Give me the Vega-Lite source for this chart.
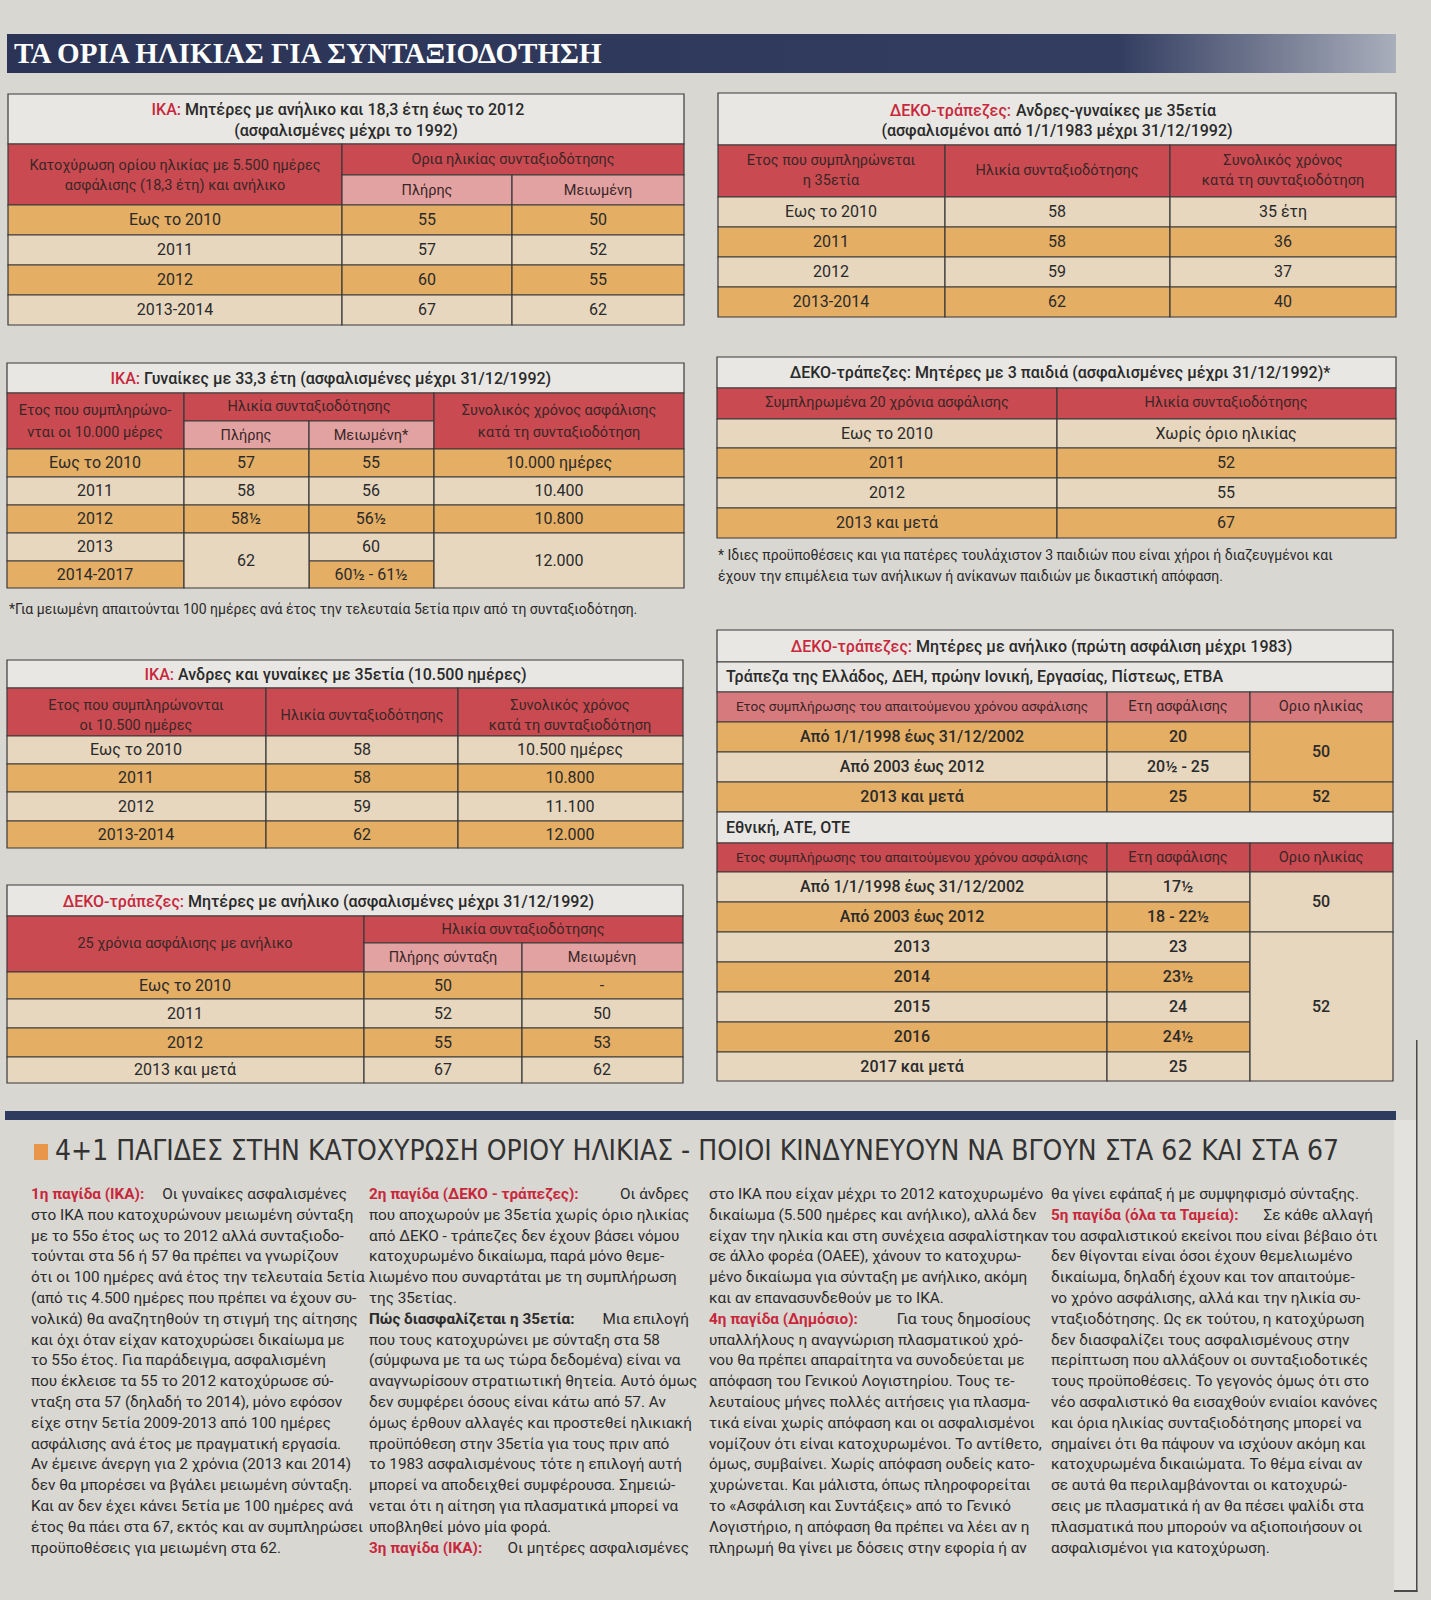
{
"$schema":"https://vega.github.io/schema/vega-lite/v6.json",
"width":1431,"height":1600,"padding":0,
"autosize":{"type":"none"},
"background":"#d9d7d2",
"config":{"view":{"stroke":null}},
"datasets":{
"boxes":[
{"x":8,"xe":684,"y":94,"ye":144,"k":"ttl"},
{"x":8,"xe":342,"y":144,"ye":205,"k":"hdr"},
{"x":342,"xe":684,"y":144,"ye":175,"k":"hdr"},
{"x":342,"xe":512,"y":175,"ye":205,"k":"sub"},
{"x":512,"xe":684,"y":175,"ye":205,"k":"sub"},
{"x":8,"xe":342,"y":205,"ye":235,"k":"or"},{"x":342,"xe":512,"y":205,"ye":235,"k":"or"},{"x":512,"xe":684,"y":205,"ye":235,"k":"or"},
{"x":8,"xe":342,"y":235,"ye":265,"k":"be"},{"x":342,"xe":512,"y":235,"ye":265,"k":"be"},{"x":512,"xe":684,"y":235,"ye":265,"k":"be"},
{"x":8,"xe":342,"y":265,"ye":295,"k":"or"},{"x":342,"xe":512,"y":265,"ye":295,"k":"or"},{"x":512,"xe":684,"y":265,"ye":295,"k":"or"},
{"x":8,"xe":342,"y":295,"ye":325,"k":"be"},{"x":342,"xe":512,"y":295,"ye":325,"k":"be"},{"x":512,"xe":684,"y":295,"ye":325,"k":"be"},

{"x":718,"xe":1396,"y":93,"ye":145,"k":"ttl"},
{"x":718,"xe":945,"y":145,"ye":197,"k":"hdr"},{"x":945,"xe":1170,"y":145,"ye":197,"k":"hdr"},{"x":1170,"xe":1396,"y":145,"ye":197,"k":"hdr"},
{"x":718,"xe":945,"y":197,"ye":227,"k":"be"},{"x":945,"xe":1170,"y":197,"ye":227,"k":"be"},{"x":1170,"xe":1396,"y":197,"ye":227,"k":"be"},
{"x":718,"xe":945,"y":227,"ye":257,"k":"or"},{"x":945,"xe":1170,"y":227,"ye":257,"k":"or"},{"x":1170,"xe":1396,"y":227,"ye":257,"k":"or"},
{"x":718,"xe":945,"y":257,"ye":287,"k":"be"},{"x":945,"xe":1170,"y":257,"ye":287,"k":"be"},{"x":1170,"xe":1396,"y":257,"ye":287,"k":"be"},
{"x":718,"xe":945,"y":287,"ye":317,"k":"or"},{"x":945,"xe":1170,"y":287,"ye":317,"k":"or"},{"x":1170,"xe":1396,"y":287,"ye":317,"k":"or"},

{"x":7,"xe":684,"y":363,"ye":393,"k":"ttl"},
{"x":7,"xe":184,"y":393,"ye":449,"k":"hdr"},
{"x":184,"xe":434,"y":393,"ye":421,"k":"hdr"},
{"x":184,"xe":309,"y":421,"ye":449,"k":"sub"},{"x":309,"xe":434,"y":421,"ye":449,"k":"sub"},
{"x":434,"xe":684,"y":393,"ye":449,"k":"hdr"},
{"x":7,"xe":184,"y":449,"ye":477,"k":"or"},{"x":184,"xe":309,"y":449,"ye":477,"k":"or"},{"x":309,"xe":434,"y":449,"ye":477,"k":"or"},{"x":434,"xe":684,"y":449,"ye":477,"k":"or"},
{"x":7,"xe":184,"y":477,"ye":505,"k":"be"},{"x":184,"xe":309,"y":477,"ye":505,"k":"be"},{"x":309,"xe":434,"y":477,"ye":505,"k":"be"},{"x":434,"xe":684,"y":477,"ye":505,"k":"be"},
{"x":7,"xe":184,"y":505,"ye":533,"k":"or"},{"x":184,"xe":309,"y":505,"ye":533,"k":"or"},{"x":309,"xe":434,"y":505,"ye":533,"k":"or"},{"x":434,"xe":684,"y":505,"ye":533,"k":"or"},
{"x":7,"xe":184,"y":533,"ye":561,"k":"be"},{"x":309,"xe":434,"y":533,"ye":561,"k":"be"},
{"x":7,"xe":184,"y":561,"ye":588,"k":"or"},{"x":309,"xe":434,"y":561,"ye":588,"k":"or"},
{"x":184,"xe":309,"y":533,"ye":588,"k":"be"},{"x":434,"xe":684,"y":533,"ye":588,"k":"be"},

{"x":7,"xe":683,"y":660,"ye":688,"k":"ttl"},
{"x":7,"xe":266,"y":688,"ye":736,"k":"hdr"},{"x":266,"xe":458,"y":688,"ye":736,"k":"hdr"},{"x":458,"xe":683,"y":688,"ye":736,"k":"hdr"},
{"x":7,"xe":266,"y":736,"ye":764,"k":"be"},{"x":266,"xe":458,"y":736,"ye":764,"k":"be"},{"x":458,"xe":683,"y":736,"ye":764,"k":"be"},
{"x":7,"xe":266,"y":764,"ye":792,"k":"or"},{"x":266,"xe":458,"y":764,"ye":792,"k":"or"},{"x":458,"xe":683,"y":764,"ye":792,"k":"or"},
{"x":7,"xe":266,"y":792,"ye":821,"k":"be"},{"x":266,"xe":458,"y":792,"ye":821,"k":"be"},{"x":458,"xe":683,"y":792,"ye":821,"k":"be"},
{"x":7,"xe":266,"y":821,"ye":848,"k":"or"},{"x":266,"xe":458,"y":821,"ye":848,"k":"or"},{"x":458,"xe":683,"y":821,"ye":848,"k":"or"},

{"x":7,"xe":683,"y":885,"ye":916,"k":"ttl"},
{"x":7,"xe":364,"y":916,"ye":972,"k":"hdr"},
{"x":364,"xe":683,"y":916,"ye":943,"k":"hdr"},
{"x":364,"xe":522,"y":943,"ye":972,"k":"sub"},{"x":522,"xe":683,"y":943,"ye":972,"k":"sub"},
{"x":7,"xe":364,"y":972,"ye":999,"k":"or"},{"x":364,"xe":522,"y":972,"ye":999,"k":"or"},{"x":522,"xe":683,"y":972,"ye":999,"k":"or"},
{"x":7,"xe":364,"y":999,"ye":1028,"k":"be"},{"x":364,"xe":522,"y":999,"ye":1028,"k":"be"},{"x":522,"xe":683,"y":999,"ye":1028,"k":"be"},
{"x":7,"xe":364,"y":1028,"ye":1057,"k":"or"},{"x":364,"xe":522,"y":1028,"ye":1057,"k":"or"},{"x":522,"xe":683,"y":1028,"ye":1057,"k":"or"},
{"x":7,"xe":364,"y":1057,"ye":1083,"k":"be"},{"x":364,"xe":522,"y":1057,"ye":1083,"k":"be"},{"x":522,"xe":683,"y":1057,"ye":1083,"k":"be"},

{"x":717,"xe":1396,"y":357,"ye":388,"k":"ttl"},
{"x":717,"xe":1057,"y":388,"ye":419,"k":"hdr"},{"x":1057,"xe":1396,"y":388,"ye":419,"k":"hdr"},
{"x":717,"xe":1057,"y":419,"ye":448,"k":"be"},{"x":1057,"xe":1396,"y":419,"ye":448,"k":"be"},
{"x":717,"xe":1057,"y":448,"ye":478,"k":"or"},{"x":1057,"xe":1396,"y":448,"ye":478,"k":"or"},
{"x":717,"xe":1057,"y":478,"ye":508,"k":"be"},{"x":1057,"xe":1396,"y":478,"ye":508,"k":"be"},
{"x":717,"xe":1057,"y":508,"ye":538,"k":"or"},{"x":1057,"xe":1396,"y":508,"ye":538,"k":"or"},

{"x":717,"xe":1393,"y":630,"ye":662,"k":"ttl"},
{"x":717,"xe":1393,"y":662,"ye":692,"k":"ttl"},
{"x":717,"xe":1107,"y":692,"ye":722,"k":"hdp"},{"x":1107,"xe":1250,"y":692,"ye":722,"k":"hdp"},{"x":1250,"xe":1393,"y":692,"ye":722,"k":"hdp"},
{"x":717,"xe":1107,"y":722,"ye":752,"k":"or"},{"x":1107,"xe":1250,"y":722,"ye":752,"k":"or"},
{"x":717,"xe":1107,"y":752,"ye":782,"k":"be"},{"x":1107,"xe":1250,"y":752,"ye":782,"k":"be"},
{"x":1250,"xe":1393,"y":722,"ye":782,"k":"or"},
{"x":717,"xe":1107,"y":782,"ye":812,"k":"or"},{"x":1107,"xe":1250,"y":782,"ye":812,"k":"or"},{"x":1250,"xe":1393,"y":782,"ye":812,"k":"or"},
{"x":717,"xe":1393,"y":812,"ye":843,"k":"ttl"},
{"x":717,"xe":1107,"y":843,"ye":872,"k":"hdr"},{"x":1107,"xe":1250,"y":843,"ye":872,"k":"hdr"},{"x":1250,"xe":1393,"y":843,"ye":872,"k":"hdr"},
{"x":717,"xe":1107,"y":872,"ye":902,"k":"be"},{"x":1107,"xe":1250,"y":872,"ye":902,"k":"be"},
{"x":717,"xe":1107,"y":902,"ye":932,"k":"or"},{"x":1107,"xe":1250,"y":902,"ye":932,"k":"or"},
{"x":1250,"xe":1393,"y":872,"ye":932,"k":"be"},
{"x":717,"xe":1107,"y":932,"ye":962,"k":"be"},{"x":1107,"xe":1250,"y":932,"ye":962,"k":"be"},
{"x":717,"xe":1107,"y":962,"ye":992,"k":"or"},{"x":1107,"xe":1250,"y":962,"ye":992,"k":"or"},
{"x":717,"xe":1107,"y":992,"ye":1022,"k":"be"},{"x":1107,"xe":1250,"y":992,"ye":1022,"k":"be"},
{"x":717,"xe":1107,"y":1022,"ye":1052,"k":"or"},{"x":1107,"xe":1250,"y":1022,"ye":1052,"k":"or"},
{"x":717,"xe":1107,"y":1052,"ye":1081,"k":"be"},{"x":1107,"xe":1250,"y":1052,"ye":1081,"k":"be"},
{"x":1250,"xe":1393,"y":932,"ye":1081,"k":"be"}
],
"deco":[
{"x":1394,"xe":1416,"y":1120,"ye":1590,"k":"lt"},
{"x":1416,"xe":1417.5,"y":1040,"ye":1592,"k":"ln"},
{"x":1394,"xe":1417.5,"y":1590,"ye":1592,"k":"ln"},
{"x":5,"xe":1396,"y":1111,"ye":1120,"k":"nav"},
{"x":34,"xe":48,"y":1144,"ye":1160,"k":"sq"}
],
"bar":[{"x":7,"xe":1396,"y":34,"ye":73}],
"heads":[
{"x":14,"y":54,"t":"ΤΑ ΟΡΙΑ ΗΛΙΚΙΑΣ ΓΙΑ ΣΥΝΤΑΞΙΟΔΟΤΗΣΗ","k":"h1"},
{"x":55,"y":1152,"t":"4+1 ΠΑΓΙΔΕΣ ΣΤΗΝ ΚΑΤΟΧΥΡΩΣΗ ΟΡΙΟΥ ΗΛΙΚΙΑΣ - ΠΟΙΟΙ ΚΙΝΔΥΝΕΥΟΥΝ ΝΑ ΒΓΟΥΝ ΣΤΑ 62 ΚΑΙ ΣΤΑ 67","k":"h2"}
],
"cells":[
{"x":181,"y":110,"t":"ΙΚΑ:","k":"tr"},
{"x":185,"y":110,"t":"Μητέρες με ανήλικο και 18,3 έτη έως το 2012","k":"tl"},
{"x":346,"y":131,"t":"(ασφαλισμένες μέχρι το 1992)","k":"tb"},
{"x":175,"y":166,"t":"Κατοχύρωση ορίου ηλικίας με 5.500 ημέρες","k":"h"},
{"x":175,"y":186,"t":"ασφάλισης (18,3 έτη) και ανήλικο","k":"h"},
{"x":513,"y":160,"t":"Ορια ηλικίας συνταξιοδότησης","k":"h"},
{"x":427,"y":191,"t":"Πλήρης","k":"h"},
{"x":598,"y":191,"t":"Μειωμένη","k":"h"},
{"x":175,"y":220,"t":"Εως το 2010","k":"c"},{"x":427,"y":220,"t":"55","k":"c"},{"x":598,"y":220,"t":"50","k":"c"},
{"x":175,"y":250,"t":"2011","k":"c"},{"x":427,"y":250,"t":"57","k":"c"},{"x":598,"y":250,"t":"52","k":"c"},
{"x":175,"y":280,"t":"2012","k":"c"},{"x":427,"y":280,"t":"60","k":"c"},{"x":598,"y":280,"t":"55","k":"c"},
{"x":175,"y":310,"t":"2013-2014","k":"c"},{"x":427,"y":310,"t":"67","k":"c"},{"x":598,"y":310,"t":"62","k":"c"},

{"x":1011,"y":111,"t":"ΔΕΚΟ-τράπεζες:","k":"tr"},
{"x":1016,"y":111,"t":"Ανδρες-γυναίκες με 35ετία","k":"tl"},
{"x":1057,"y":131,"t":"(ασφαλισμένοι από 1/1/1983 μέχρι 31/12/1992)","k":"tb"},
{"x":831,"y":161,"t":"Ετος που συμπληρώνεται","k":"h"},
{"x":831,"y":181,"t":"η 35ετία","k":"h"},
{"x":1057,"y":171,"t":"Ηλικία συνταξιοδότησης","k":"h"},
{"x":1283,"y":161,"t":"Συνολικός χρόνος","k":"h"},
{"x":1283,"y":181,"t":"κατά τη συνταξιοδότηση","k":"h"},
{"x":831,"y":212,"t":"Εως το 2010","k":"c"},{"x":1057,"y":212,"t":"58","k":"c"},{"x":1283,"y":212,"t":"35 έτη","k":"c"},
{"x":831,"y":242,"t":"2011","k":"c"},{"x":1057,"y":242,"t":"58","k":"c"},{"x":1283,"y":242,"t":"36","k":"c"},
{"x":831,"y":272,"t":"2012","k":"c"},{"x":1057,"y":272,"t":"59","k":"c"},{"x":1283,"y":272,"t":"37","k":"c"},
{"x":831,"y":302,"t":"2013-2014","k":"c"},{"x":1057,"y":302,"t":"62","k":"c"},{"x":1283,"y":302,"t":"40","k":"c"},

{"x":140,"y":379,"t":"ΙΚΑ:","k":"tr"},
{"x":144,"y":379,"t":"Γυναίκες με 33,3 έτη (ασφαλισμένες μέχρι 31/12/1992)","k":"tl"},
{"x":95,"y":411,"t":"Ετος που συμπληρώνο-","k":"h"},
{"x":95,"y":433,"t":"νται οι 10.000 μέρες","k":"h"},
{"x":309,"y":407,"t":"Ηλικία συνταξιοδότησης","k":"h"},
{"x":246,"y":436,"t":"Πλήρης","k":"h"},
{"x":371,"y":436,"t":"Μειωμένη*","k":"h"},
{"x":559,"y":411,"t":"Συνολικός χρόνος ασφάλισης","k":"h"},
{"x":559,"y":433,"t":"κατά τη συνταξιοδότηση","k":"h"},
{"x":95,"y":463,"t":"Εως το 2010","k":"c"},{"x":246,"y":463,"t":"57","k":"c"},{"x":371,"y":463,"t":"55","k":"c"},{"x":559,"y":463,"t":"10.000 ημέρες","k":"c"},
{"x":95,"y":491,"t":"2011","k":"c"},{"x":246,"y":491,"t":"58","k":"c"},{"x":371,"y":491,"t":"56","k":"c"},{"x":559,"y":491,"t":"10.400","k":"c"},
{"x":95,"y":519,"t":"2012","k":"c"},{"x":246,"y":519,"t":"58½","k":"c"},{"x":371,"y":519,"t":"56½","k":"c"},{"x":559,"y":519,"t":"10.800","k":"c"},
{"x":95,"y":547,"t":"2013","k":"c"},{"x":371,"y":547,"t":"60","k":"c"},
{"x":95,"y":574.5,"t":"2014-2017","k":"c"},{"x":371,"y":574.5,"t":"60½ - 61½","k":"c"},
{"x":246,"y":560.5,"t":"62","k":"c"},{"x":559,"y":560.5,"t":"12.000","k":"c"},
{"x":9,"y":610,"t":"*Για μειωμένη απαιτούνται 100 ημέρες ανά έτος την τελευταία 5ετία πριν από τη συνταξιοδότηση.","k":"n"},

{"x":174,"y":675,"t":"ΙΚΑ:","k":"tr"},
{"x":178,"y":675,"t":"Ανδρες και γυναίκες με 35ετία (10.500 ημέρες)","k":"tl"},
{"x":136,"y":706,"t":"Ετος που συμπληρώνονται","k":"h"},
{"x":136,"y":726,"t":"οι 10.500 ημέρες","k":"h"},
{"x":362,"y":716,"t":"Ηλικία συνταξιοδότησης","k":"h"},
{"x":570,"y":706,"t":"Συνολικός χρόνος","k":"h"},
{"x":570,"y":726,"t":"κατά τη συνταξιοδότηση","k":"h"},
{"x":136,"y":750,"t":"Εως το 2010","k":"c"},{"x":362,"y":750,"t":"58","k":"c"},{"x":570,"y":750,"t":"10.500 ημέρες","k":"c"},
{"x":136,"y":778,"t":"2011","k":"c"},{"x":362,"y":778,"t":"58","k":"c"},{"x":570,"y":778,"t":"10.800","k":"c"},
{"x":136,"y":806.5,"t":"2012","k":"c"},{"x":362,"y":806.5,"t":"59","k":"c"},{"x":570,"y":806.5,"t":"11.100","k":"c"},
{"x":136,"y":834.5,"t":"2013-2014","k":"c"},{"x":362,"y":834.5,"t":"62","k":"c"},{"x":570,"y":834.5,"t":"12.000","k":"c"},

{"x":184,"y":902,"t":"ΔΕΚΟ-τράπεζες:","k":"tr"},
{"x":188,"y":902,"t":"Μητέρες με ανήλικο (ασφαλισμένες μέχρι 31/12/1992)","k":"tl"},
{"x":185,"y":944,"t":"25 χρόνια ασφάλισης με ανήλικο","k":"h"},
{"x":523,"y":930,"t":"Ηλικία συνταξιοδότησης","k":"h"},
{"x":443,"y":958,"t":"Πλήρης σύνταξη","k":"h"},
{"x":602,"y":958,"t":"Μειωμένη","k":"h"},
{"x":185,"y":985.5,"t":"Εως το 2010","k":"c"},{"x":443,"y":985.5,"t":"50","k":"c"},{"x":602,"y":985.5,"t":"-","k":"c"},
{"x":185,"y":1013.5,"t":"2011","k":"c"},{"x":443,"y":1013.5,"t":"52","k":"c"},{"x":602,"y":1013.5,"t":"50","k":"c"},
{"x":185,"y":1042.5,"t":"2012","k":"c"},{"x":443,"y":1042.5,"t":"55","k":"c"},{"x":602,"y":1042.5,"t":"53","k":"c"},
{"x":185,"y":1070,"t":"2013 και μετά","k":"c"},{"x":443,"y":1070,"t":"67","k":"c"},{"x":602,"y":1070,"t":"62","k":"c"},

{"x":1060,"y":373,"t":"ΔΕΚΟ-τράπεζες: Μητέρες με 3 παιδιά (ασφαλισμένες μέχρι 31/12/1992)*","k":"tb"},
{"x":887,"y":403,"t":"Συμπληρωμένα 20 χρόνια ασφάλισης","k":"h"},
{"x":1226,"y":403,"t":"Ηλικία συνταξιοδότησης","k":"h"},
{"x":887,"y":433.5,"t":"Εως το 2010","k":"c"},{"x":1226,"y":433.5,"t":"Χωρίς όριο ηλικίας","k":"c"},
{"x":887,"y":463,"t":"2011","k":"c"},{"x":1226,"y":463,"t":"52","k":"c"},
{"x":887,"y":493,"t":"2012","k":"c"},{"x":1226,"y":493,"t":"55","k":"c"},
{"x":887,"y":523,"t":"2013 και μετά","k":"c"},{"x":1226,"y":523,"t":"67","k":"c"},
{"x":718,"y":556,"t":"* Ιδιες προϋποθέσεις και για πατέρες τουλάχιστον 3 παιδιών που είναι χήροι ή διαζευγμένοι και","k":"n"},
{"x":718,"y":577,"t":"έχουν την επιμέλεια των ανήλικων ή ανίκανων παιδιών με δικαστική απόφαση.","k":"n"},

{"x":912,"y":647,"t":"ΔΕΚΟ-τράπεζες:","k":"tr"},
{"x":916,"y":647,"t":"Μητέρες με ανήλικο (πρώτη ασφάλιση μέχρι 1983)","k":"tl"},
{"x":726,"y":677,"t":"Τράπεζα της Ελλάδος, ΔΕΗ, πρώην Ιονική, Εργασίας, Πίστεως, ΕΤΒΑ","k":"sl"},
{"x":912,"y":707,"t":"Ετος συμπλήρωσης του απαιτούμενου χρόνου ασφάλισης","k":"hs"},
{"x":1178,"y":707,"t":"Ετη ασφάλισης","k":"h"},
{"x":1321,"y":707,"t":"Οριο ηλικίας","k":"h"},
{"x":912,"y":737,"t":"Από 1/1/1998 έως 31/12/2002","k":"cm"},{"x":1178,"y":737,"t":"20","k":"cm"},
{"x":912,"y":767,"t":"Από 2003 έως 2012","k":"cm"},{"x":1178,"y":767,"t":"20½ - 25","k":"cm"},
{"x":1321,"y":752,"t":"50","k":"cm"},
{"x":912,"y":797,"t":"2013 και μετά","k":"cm"},{"x":1178,"y":797,"t":"25","k":"cm"},{"x":1321,"y":797,"t":"52","k":"cm"},
{"x":726,"y":828,"t":"Εθνική, ΑΤΕ, ΟΤΕ","k":"sl"},
{"x":912,"y":857.5,"t":"Ετος συμπλήρωσης του απαιτούμενου χρόνου ασφάλισης","k":"hs"},
{"x":1178,"y":857.5,"t":"Ετη ασφάλισης","k":"h"},
{"x":1321,"y":857.5,"t":"Οριο ηλικίας","k":"h"},
{"x":912,"y":887,"t":"Από 1/1/1998 έως 31/12/2002","k":"cm"},{"x":1178,"y":887,"t":"17½","k":"cm"},
{"x":912,"y":917,"t":"Από 2003 έως 2012","k":"cm"},{"x":1178,"y":917,"t":"18 - 22½","k":"cm"},
{"x":1321,"y":902,"t":"50","k":"cm"},
{"x":912,"y":947,"t":"2013","k":"cm"},{"x":1178,"y":947,"t":"23","k":"cm"},
{"x":912,"y":977,"t":"2014","k":"cm"},{"x":1178,"y":977,"t":"23½","k":"cm"},
{"x":912,"y":1007,"t":"2015","k":"cm"},{"x":1178,"y":1007,"t":"24","k":"cm"},
{"x":912,"y":1037,"t":"2016","k":"cm"},{"x":1178,"y":1037,"t":"24½","k":"cm"},
{"x":912,"y":1066.5,"t":"2017 και μετά","k":"cm"},{"x":1178,"y":1066.5,"t":"25","k":"cm"},
{"x":1321,"y":1006.5,"t":"52","k":"cm"}
],
"body":[
{"x":31,"y":1194,"t":"1η παγίδα (ΙΚΑ):","k":"lr"},
{"x":347,"y":1194,"t":"Οι γυναίκες ασφαλισμένες","k":"br"},
{"x":31,"y":1214.8,"t":"στο ΙΚΑ που κατοχυρώνουν μειωμένη σύνταξη","k":"b"},
{"x":31,"y":1235.6,"t":"με το 55ο έτος ως το 2012 αλλά συνταξιοδο-","k":"b"},
{"x":31,"y":1256.4,"t":"τούνται στα 56 ή 57 θα πρέπει να γνωρίζουν","k":"b"},
{"x":31,"y":1277.2,"t":"ότι οι 100 ημέρες ανά έτος την τελευταία 5ετία","k":"b"},
{"x":31,"y":1298,"t":"(από τις 4.500 ημέρες που πρέπει να έχουν συ-","k":"b"},
{"x":31,"y":1318.8,"t":"νολικά) θα αναζητηθούν τη στιγμή της αίτησης","k":"b"},
{"x":31,"y":1339.6,"t":"και όχι όταν είχαν κατοχυρώσει δικαίωμα με","k":"b"},
{"x":31,"y":1360.4,"t":"το 55ο έτος. Για παράδειγμα, ασφαλισμένη","k":"b"},
{"x":31,"y":1381.2,"t":"που έκλεισε τα 55 το 2012 κατοχύρωσε σύ-","k":"b"},
{"x":31,"y":1402,"t":"νταξη στα 57 (δηλαδή το 2014), μόνο εφόσον","k":"b"},
{"x":31,"y":1422.8,"t":"είχε στην 5ετία 2009-2013 από 100 ημέρες","k":"b"},
{"x":31,"y":1443.6,"t":"ασφάλισης ανά έτος με πραγματική εργασία.","k":"b"},
{"x":31,"y":1464.4,"t":"Αν έμεινε άνεργη για 2 χρόνια (2013 και 2014)","k":"b"},
{"x":31,"y":1485.2,"t":"δεν θα μπορέσει να βγάλει μειωμένη σύνταξη.","k":"b"},
{"x":31,"y":1506,"t":"Και αν δεν έχει κάνει 5ετία με 100 ημέρες ανά","k":"b"},
{"x":31,"y":1526.8,"t":"έτος θα πάει στα 67, εκτός και αν συμπληρώσει","k":"b"},
{"x":31,"y":1547.6,"t":"προϋποθέσεις για μειωμένη στα 62.","k":"b"},

{"x":369,"y":1194,"t":"2η παγίδα (ΔΕΚΟ - τράπεζες):","k":"lr"},
{"x":689,"y":1194,"t":"Οι άνδρες","k":"br"},
{"x":369,"y":1214.8,"t":"που αποχωρούν με 35ετία χωρίς όριο ηλικίας","k":"b"},
{"x":369,"y":1235.6,"t":"από ΔΕΚΟ - τράπεζες δεν έχουν βάσει νόμου","k":"b"},
{"x":369,"y":1256.4,"t":"κατοχυρωμένο δικαίωμα, παρά μόνο θεμε-","k":"b"},
{"x":369,"y":1277.2,"t":"λιωμένο που συναρτάται με τη συμπλήρωση","k":"b"},
{"x":369,"y":1298,"t":"της 35ετίας.","k":"b"},
{"x":369,"y":1318.8,"t":"Πώς διασφαλίζεται η 35ετία:","k":"lb"},
{"x":689,"y":1318.8,"t":"Μια επιλογή","k":"br"},
{"x":369,"y":1339.6,"t":"που τους κατοχυρώνει με σύνταξη στα 58","k":"b"},
{"x":369,"y":1360.4,"t":"(σύμφωνα με τα ως τώρα δεδομένα) είναι να","k":"b"},
{"x":369,"y":1381.2,"t":"αναγνωρίσουν στρατιωτική θητεία. Αυτό όμως","k":"b"},
{"x":369,"y":1402,"t":"δεν συμφέρει όσους είναι κάτω από 57. Αν","k":"b"},
{"x":369,"y":1422.8,"t":"όμως έρθουν αλλαγές και προστεθεί ηλικιακή","k":"b"},
{"x":369,"y":1443.6,"t":"προϋπόθεση στην 35ετία για τους πριν από","k":"b"},
{"x":369,"y":1464.4,"t":"το 1983 ασφαλισμένους τότε η επιλογή αυτή","k":"b"},
{"x":369,"y":1485.2,"t":"μπορεί να αποδειχθεί συμφέρουσα. Σημειώ-","k":"b"},
{"x":369,"y":1506,"t":"νεται ότι η αίτηση για πλασματικά μπορεί να","k":"b"},
{"x":369,"y":1526.8,"t":"υποβληθεί μόνο μία φορά.","k":"b"},
{"x":369,"y":1547.6,"t":"3η παγίδα (ΙΚΑ):","k":"lr"},
{"x":689,"y":1547.6,"t":"Οι μητέρες ασφαλισμένες","k":"br"},

{"x":709,"y":1194,"t":"στο ΙΚΑ που είχαν μέχρι το 2012 κατοχυρωμένο","k":"b"},
{"x":709,"y":1214.8,"t":"δικαίωμα (5.500 ημέρες και ανήλικο), αλλά δεν","k":"b"},
{"x":709,"y":1235.6,"t":"είχαν την ηλικία και στη συνέχεια ασφαλίστηκαν","k":"b"},
{"x":709,"y":1256.4,"t":"σε άλλο φορέα (ΟΑΕΕ), χάνουν το κατοχυρω-","k":"b"},
{"x":709,"y":1277.2,"t":"μένο δικαίωμα για σύνταξη με ανήλικο, ακόμη","k":"b"},
{"x":709,"y":1298,"t":"και αν επανασυνδεθούν με το ΙΚΑ.","k":"b"},
{"x":709,"y":1318.8,"t":"4η παγίδα (Δημόσιο):","k":"lr"},
{"x":1031,"y":1318.8,"t":"Για τους δημοσίους","k":"br"},
{"x":709,"y":1339.6,"t":"υπαλλήλους η αναγνώριση πλασματικού χρό-","k":"b"},
{"x":709,"y":1360.4,"t":"νου θα πρέπει απαραίτητα να συνοδεύεται με","k":"b"},
{"x":709,"y":1381.2,"t":"απόφαση του Γενικού Λογιστηρίου. Τους τε-","k":"b"},
{"x":709,"y":1402,"t":"λευταίους μήνες πολλές αιτήσεις για πλασμα-","k":"b"},
{"x":709,"y":1422.8,"t":"τικά είναι χωρίς απόφαση και οι ασφαλισμένοι","k":"b"},
{"x":709,"y":1443.6,"t":"νομίζουν ότι είναι κατοχυρωμένοι. Το αντίθετο,","k":"b"},
{"x":709,"y":1464.4,"t":"όμως, συμβαίνει. Χωρίς απόφαση ουδείς κατο-","k":"b"},
{"x":709,"y":1485.2,"t":"χυρώνεται. Και μάλιστα, όπως πληροφορείται","k":"b"},
{"x":709,"y":1506,"t":"το «Ασφάλιση και Συντάξεις» από το Γενικό","k":"b"},
{"x":709,"y":1526.8,"t":"Λογιστήριο, η απόφαση θα πρέπει να λέει αν η","k":"b"},
{"x":709,"y":1547.6,"t":"πληρωμή θα γίνει με δόσεις στην εφορία ή αν","k":"b"},

{"x":1051,"y":1194,"t":"θα γίνει εφάπαξ ή με συμψηφισμό σύνταξης.","k":"b"},
{"x":1051,"y":1214.8,"t":"5η παγίδα (όλα τα Ταμεία):","k":"lr"},
{"x":1373,"y":1214.8,"t":"Σε κάθε αλλαγή","k":"br"},
{"x":1051,"y":1235.6,"t":"του ασφαλιστικού εκείνοι που είναι βέβαιο ότι","k":"b"},
{"x":1051,"y":1256.4,"t":"δεν θίγονται είναι όσοι έχουν θεμελιωμένο","k":"b"},
{"x":1051,"y":1277.2,"t":"δικαίωμα, δηλαδή έχουν και τον απαιτούμε-","k":"b"},
{"x":1051,"y":1298,"t":"νο χρόνο ασφάλισης, αλλά και την ηλικία συ-","k":"b"},
{"x":1051,"y":1318.8,"t":"νταξιοδότησης. Ως εκ τούτου, η κατοχύρωση","k":"b"},
{"x":1051,"y":1339.6,"t":"δεν διασφαλίζει τους ασφαλισμένους στην","k":"b"},
{"x":1051,"y":1360.4,"t":"περίπτωση που αλλάξουν οι συνταξιοδοτικές","k":"b"},
{"x":1051,"y":1381.2,"t":"τους προϋποθέσεις. Το γεγονός όμως ότι στο","k":"b"},
{"x":1051,"y":1402,"t":"νέο ασφαλιστικό θα εισαχθούν ενιαίοι κανόνες","k":"b"},
{"x":1051,"y":1422.8,"t":"και όρια ηλικίας συνταξιοδότησης μπορεί να","k":"b"},
{"x":1051,"y":1443.6,"t":"σημαίνει ότι θα πάψουν να ισχύουν ακόμη και","k":"b"},
{"x":1051,"y":1464.4,"t":"κατοχυρωμένα δικαιώματα. Το θέμα είναι αν","k":"b"},
{"x":1051,"y":1485.2,"t":"σε αυτά θα περιλαμβάνονται οι κατοχυρώ-","k":"b"},
{"x":1051,"y":1506,"t":"σεις με πλασματικά ή αν θα πέσει ψαλίδι στα","k":"b"},
{"x":1051,"y":1526.8,"t":"πλασματικά που μπορούν να αξιοποιήσουν οι","k":"b"},
{"x":1051,"y":1547.6,"t":"ασφαλισμένοι για κατοχύρωση.","k":"b"}
]
},
"encoding":{
"x":{"field":"x","type":"quantitative","scale":{"domain":[0,1431],"nice":false,"zero":false},"axis":null},
"y":{"field":"y","type":"quantitative","scale":{"domain":[0,1600],"reverse":true,"nice":false,"zero":false},"axis":null}
},
"layer":[
{"data":{"name":"bar"},
 "mark":{"type":"rect","fill":{"gradient":"linear","x1":0,"y1":0,"x2":1,"y2":0,"stops":[{"offset":0,"color":"#2b3456"},{"offset":0.8,"color":"#333d60"},{"offset":1,"color":"#a9aebb"}]}},
 "encoding":{"x2":{"field":"xe"},"y2":{"field":"ye"}}},
{"data":{"name":"deco"},
 "mark":{"type":"rect"},
 "encoding":{"x2":{"field":"xe"},"y2":{"field":"ye"},
  "color":{"field":"k","type":"nominal","legend":null,"scale":{"domain":["ttl","hdr","hdp","sub","or","be","nav","sq","lt","ln"],"range":["#e8e7e3","#c94b51","#d77a7e","#e2a2a2","#e4ae64","#e7d7bf","#2f3b5e","#e7964a","#e3e2df","#4a4a4a"]}}}},
{"data":{"name":"boxes"},
 "mark":{"type":"rect","stroke":"#3a3a3a","strokeWidth":1.2},
 "encoding":{"x2":{"field":"xe"},"y2":{"field":"ye"},
  "color":{"field":"k","type":"nominal","legend":null,"scale":{"domain":["ttl","hdr","hdp","sub","or","be","nav","sq","lt","ln"],"range":["#e8e7e3","#c94b51","#d77a7e","#e2a2a2","#e4ae64","#e7d7bf","#2f3b5e","#e7964a","#e3e2df","#4a4a4a"]}}}},
{"data":{"name":"heads"},"transform":[{"filter":"datum.k == 'h1'"}],
 "mark":{"type":"text","align":"left","baseline":"middle","font":"Liberation Serif","fontWeight":"bold","fontSize":29,"color":"#ffffff"},
 "encoding":{"text":{"field":"t"}}},
{"data":{"name":"heads"},"transform":[{"filter":"datum.k == 'h2'"}],
 "mark":{"type":"text","align":"left","baseline":"middle","font":"DejaVu Sans Condensed, Roboto, sans-serif","fontSize":28,"color":"#333333"},
 "encoding":{"text":{"field":"t"}}},
{"data":{"name":"cells"},"transform":[{"filter":"datum.k == 'c'"}],
 "mark":{"type":"text","align":"center","baseline":"middle","font":"Roboto","fontSize":16,"color":"#2a2a2a"},
 "encoding":{"text":{"field":"t"}}},
{"data":{"name":"cells"},"transform":[{"filter":"datum.k == 'cm'"}],
 "mark":{"type":"text","align":"center","baseline":"middle","font":"Roboto","fontWeight":500,"fontSize":16,"color":"#2a2a2a"},
 "encoding":{"text":{"field":"t"}}},
{"data":{"name":"cells"},"transform":[{"filter":"datum.k == 'h'"}],
 "mark":{"type":"text","align":"center","baseline":"middle","font":"Roboto","fontSize":14.5,"color":"#3a2626"},
 "encoding":{"text":{"field":"t"}}},
{"data":{"name":"cells"},"transform":[{"filter":"datum.k == 'hs'"}],
 "mark":{"type":"text","align":"center","baseline":"middle","font":"Roboto","fontSize":13.5,"color":"#3a2626"},
 "encoding":{"text":{"field":"t"}}},
{"data":{"name":"cells"},"transform":[{"filter":"datum.k == 'tb'"}],
 "mark":{"type":"text","align":"center","baseline":"middle","font":"Roboto","fontWeight":500,"fontSize":16,"color":"#2a2a2a"},
 "encoding":{"text":{"field":"t"}}},
{"data":{"name":"cells"},"transform":[{"filter":"datum.k == 'tl'"}],
 "mark":{"type":"text","align":"left","baseline":"middle","font":"Roboto","fontWeight":500,"fontSize":16,"color":"#2a2a2a"},
 "encoding":{"text":{"field":"t"}}},
{"data":{"name":"cells"},"transform":[{"filter":"datum.k == 'tr'"}],
 "mark":{"type":"text","align":"right","baseline":"middle","font":"Roboto","fontWeight":500,"fontSize":16,"color":"#c8283c"},
 "encoding":{"text":{"field":"t"}}},
{"data":{"name":"cells"},"transform":[{"filter":"datum.k == 'sl'"}],
 "mark":{"type":"text","align":"left","baseline":"middle","font":"Roboto","fontWeight":500,"fontSize":16,"color":"#2a2a2a"},
 "encoding":{"text":{"field":"t"}}},
{"data":{"name":"cells"},"transform":[{"filter":"datum.k == 'n'"}],
 "mark":{"type":"text","align":"left","baseline":"middle","font":"Roboto","fontSize":14,"color":"#2a2a2a"},
 "encoding":{"text":{"field":"t"}}},
{"data":{"name":"body"},"transform":[{"filter":"datum.k == 'b'"}],
 "mark":{"type":"text","align":"left","baseline":"middle","font":"Roboto","fontSize":15.3,"color":"#2b2b2b"},
 "encoding":{"text":{"field":"t"}}},
{"data":{"name":"body"},"transform":[{"filter":"datum.k == 'br'"}],
 "mark":{"type":"text","align":"right","baseline":"middle","font":"Roboto","fontSize":15.3,"color":"#2b2b2b"},
 "encoding":{"text":{"field":"t"}}},
{"data":{"name":"body"},"transform":[{"filter":"datum.k == 'lr'"}],
 "mark":{"type":"text","align":"left","baseline":"middle","font":"Roboto","fontWeight":"bold","fontSize":15.3,"color":"#c8283c"},
 "encoding":{"text":{"field":"t"}}},
{"data":{"name":"body"},"transform":[{"filter":"datum.k == 'lb'"}],
 "mark":{"type":"text","align":"left","baseline":"middle","font":"Roboto","fontWeight":"bold","fontSize":15.3,"color":"#2b2b2b"},
 "encoding":{"text":{"field":"t"}}}
]
}
